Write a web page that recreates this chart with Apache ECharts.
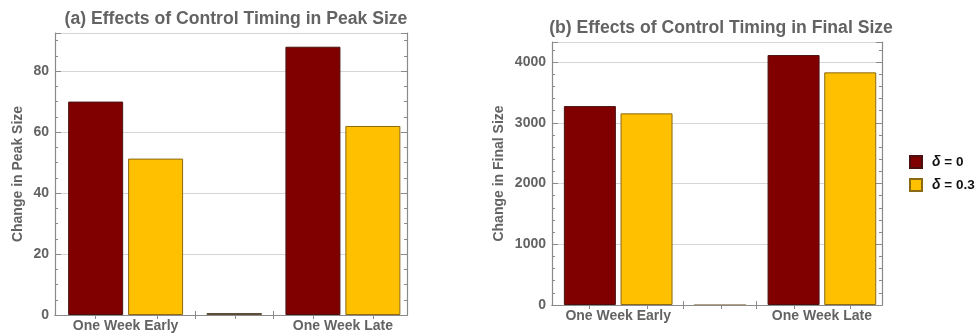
<!DOCTYPE html>
<html><head><meta charset="utf-8">
<script src="https://cdn.jsdelivr.net/npm/echarts@6/dist/echarts.min.js"></script>
<style>html,body{margin:0;padding:0;background:#fff}#chart{width:980px;height:335px}</style>
</head><body><div id="chart"></div>
<script>
// Groups along the x axis (the middle slot is an empty spacer group)
const categories = ['One Week Early', '', 'One Week Late'];
const seriesNames = ['δ = 0', 'δ = 0.3'];

// (a) change in peak size
const peakDelta0 = [70, null, 88];
const peakDelta03 = [51.3, null, 62];
const peakSpacer = [null, 0, null];

// (b) change in final size
const finalDelta0 = [3275, null, 4115];
const finalDelta03 = [3155, null, 3830];
const finalSpacer = [null, 0, null];

const TXT = '#636363';
const FRAME = '#8a8a8a';
const GRID = '#d6d6d6';
const FONT = 'Liberation Sans, Arial, sans-serif';
const MAROON = '#800000', GOLD = '#ffc000';

// value pairs: group slot (1-based) and bar height
const toPoints = arr => arr.map((v, i) => v == null ? null : [i + 1, v]).filter(p => p);

const X_MIN = 0.35, X_MAX = 3.59;
const groupTicks = [1.64, 2.36];
const topTicks = [0.72, 1.29, 1.64, 2.01, 2.36, 2.73, 3.28];

function xAxesFor(gridIndex) {
  return [
    { type: 'value', gridIndex, position: 'bottom', min: X_MIN, max: X_MAX,
      axisLine: { show: true, onZero: false, lineStyle: { color: FRAME, width: 1.2 } },
      axisTick: { show: true, inside: true, length: 4, customValues: groupTicks, lineStyle: { color: FRAME } },
      axisLabel: { show: true, customValues: [1, 3], formatter: v => categories[Math.round(v) - 1],
        color: TXT, fontWeight: 'bold', fontSize: 14, fontFamily: FONT, margin: 4 },
      splitLine: { show: false } },
    { type: 'value', gridIndex, position: 'top', min: X_MIN, max: X_MAX,
      axisLine: { show: true, lineStyle: { color: FRAME, width: 1.2 } },
      axisTick: { show: true, inside: true, length: 4, customValues: topTicks, lineStyle: { color: FRAME } },
      axisLabel: { show: false }, splitLine: { show: false } },
    { type: 'value', gridIndex, show: false, min: X_MIN, max: X_MAX, splitLine: { show: false } }
  ];
}

function yAxesFor(gridIndex, max, interval, minorSplit, name, nameGap) {
  const common = { type: 'value', gridIndex, min: 0, max, interval,
    axisLine: { show: true, lineStyle: { color: FRAME, width: 1.2 } },
    axisTick: { show: true, inside: true, length: 6, lineStyle: { color: FRAME } },
    minorTick: { show: true, splitNumber: minorSplit, length: 3, lineStyle: { color: FRAME } } };
  return [
    Object.assign({}, common, { position: 'left', name, nameLocation: 'middle', nameGap,
      nameTextStyle: { color: TXT, fontWeight: 'bold', fontSize: 14, fontFamily: FONT },
      axisLabel: { color: TXT, fontWeight: 'bold', fontSize: 14, fontFamily: FONT, margin: 6,
        showMaxLabel: false, formatter: v => String(v) },
      splitLine: { show: true, lineStyle: { color: GRID, width: 1.2 } } }),
    Object.assign({}, common, { position: 'right', axisLabel: { show: false }, splitLine: { show: false } })
  ];
}

function barSeries(name, data, color, border, xAxisIndex, yAxisIndex, width) {
  return { type: 'bar', name, data: toPoints(data), xAxisIndex, yAxisIndex,
    barWidth: width, barGap: '9%',
    itemStyle: { color, borderColor: border, borderWidth: 1 }, emphasis: { disabled: true } };
}

function spacerSeries(data, color, xAxisIndex, yAxisIndex, width, minH) {
  return { type: 'bar', name: 'spacer', data: toPoints(data), xAxisIndex, yAxisIndex,
    barWidth: width, barMinHeight: minH,
    itemStyle: { color, borderColor: color, borderWidth: 0 }, emphasis: { disabled: true } };
}

const chart = echarts.init(document.getElementById('chart'), null, { renderer: 'canvas' });
chart.setOption({
  animation: false,
  backgroundColor: '#fff',
  title: [
    { text: '(a) Effects of Control Timing in Peak Size', left: 231, top: 5, textAlign: 'center',
      textStyle: { color: TXT, fontWeight: 'bold', fontSize: 17.6, fontFamily: FONT } },
    { text: '(b) Effects of Control Timing in Final Size', left: 716, top: 14, textAlign: 'center',
      textStyle: { color: TXT, fontWeight: 'bold', fontSize: 17.6, fontFamily: FONT } }
  ],
  legend: {
    data: seriesNames, orient: 'vertical', left: 904, top: 150,
    itemWidth: 12, itemHeight: 12, itemGap: 9, icon: 'rect',
    formatter: n => n.replace('δ', '{i|δ}'),
    textStyle: { color: '#111', fontWeight: 'bold', fontSize: 13.5, fontFamily: FONT, padding: [0, 0, 0, 5],
      rich: { i: { fontStyle: 'italic', fontWeight: 'bold', fontSize: 14, fontFamily: FONT, color: '#111' } } }
  },
  grid: [
    { left: 55, right: 573, top: 33, bottom: 20, containLabel: false, show: false },
    { left: 552, right: 98, top: 42, bottom: 30, containLabel: false, show: false }
  ],
  xAxis: [...xAxesFor(0), ...xAxesFor(1)],
  yAxis: [
    ...yAxesFor(0, 92.5, 20, 4, 'Change in Peak Size', 30),
    ...yAxesFor(1, 4330, 1000, 5, 'Change in Final Size', 46)
  ],
  series: [
    barSeries(seriesNames[0], peakDelta0, MAROON, '#4a1010', 0, 0, 55),
    barSeries(seriesNames[1], peakDelta03, GOLD, '#8a6a14', 0, 0, 55),
    spacerSeries(peakSpacer, '#5d4d36', 2, 0, 55, 2),
    barSeries(seriesNames[0], finalDelta0, MAROON, '#4a1010', 3, 2, 52),
    barSeries(seriesNames[1], finalDelta03, GOLD, '#8a6a14', 3, 2, 52),
    spacerSeries(finalSpacer, '#b4a286', 5, 2, 52, 1)
  ]
});
</script></body></html>
